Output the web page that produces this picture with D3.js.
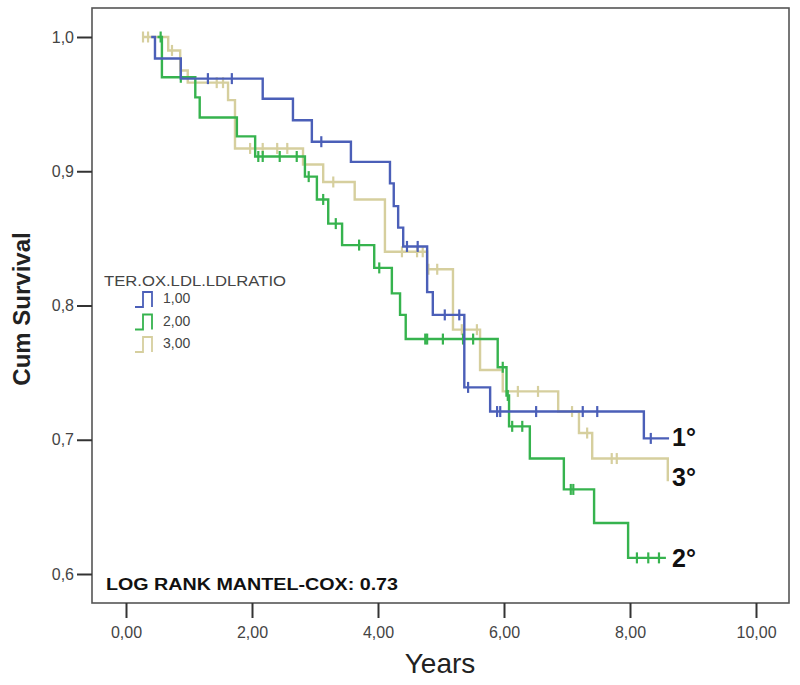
<!DOCTYPE html>
<html>
<head>
<meta charset="utf-8">
<script src="https://cdn.jsdelivr.net/npm/d3@7/dist/d3.min.js"></script>
<style>
  html, body { margin: 0; padding: 0; background: #fff; }
  svg { display: block; }
</style>
</head>
<body>
<svg id="chart" width="800" height="685"></svg>
<script>
// ---- Data ----
const xTicks = [0, 2, 4, 6, 8, 10];
const yTicks = [0.6, 0.7, 0.8, 0.9, 1.0];

// Group 1,00 (blue)
const times1 = [0.40, 0.46, 0.87, 2.17, 2.65, 2.95, 3.57, 4.19, 4.25, 4.32, 4.40, 4.78, 4.87, 5.37, 5.78, 8.22];
const surv1  = [1.000, 0.984, 0.969, 0.954, 0.938, 0.922, 0.907, 0.891, 0.874, 0.858, 0.844, 0.810, 0.793, 0.739, 0.721, 0.701];
const end1 = 8.62;
const censor1 = [1.30, 1.68, 3.10, 4.46, 4.63, 5.06, 5.29, 5.43, 5.89, 5.94, 6.51, 7.25, 7.48, 8.33];

// Group 2,00 (green)
const times2 = [0.50, 0.57, 1.10, 1.17, 1.76, 2.05, 2.84, 3.03, 3.21, 3.43, 3.94, 4.22, 4.35, 4.44, 5.90, 6.04, 6.08, 6.41, 6.95, 7.43, 7.97];
const surv2  = [1.000, 0.970, 0.955, 0.940, 0.926, 0.911, 0.896, 0.879, 0.861, 0.845, 0.828, 0.809, 0.793, 0.775, 0.754, 0.733, 0.710, 0.686, 0.663, 0.638, 0.612];
const end2 = 8.57;
const censor2 = [0.55, 0.87, 2.10, 2.17, 2.44, 2.71, 2.90, 3.13, 3.33, 3.70, 4.02, 4.75, 4.78, 5.03, 5.35, 5.51, 5.98, 6.06, 6.13, 6.29, 7.06, 7.10, 8.11, 8.29, 8.46];

// Group 3,00 (tan)
const times3 = [0.27, 0.67, 0.86, 0.98, 1.62, 1.73, 2.81, 3.13, 3.63, 4.11, 4.78, 5.19, 5.62, 5.98, 6.86, 7.19, 7.40, 8.60];
const surv3  = [1.000, 0.990, 0.975, 0.966, 0.953, 0.917, 0.905, 0.892, 0.879, 0.840, 0.827, 0.782, 0.752, 0.736, 0.721, 0.705, 0.686, 0.669];
const end3 = 8.60;
const censor3 = [0.27, 0.35, 0.73, 1.44, 1.54, 1.97, 2.17, 2.40, 2.56, 3.29, 4.38, 4.62, 4.71, 4.80, 4.94, 5.33, 5.57, 6.22, 6.54, 7.08, 7.32, 7.71, 7.79];

const legendTitle = "TER.OX.LDL.LDLRATIO";
const legendLabels = ["1,00", "2,00", "3,00"];
const endLabels = ["1°", "2°", "3°"];
const colors = ["#4b5fb8", "#36b34e", "#d6cf9e"];

const groups = [
  { times: times1, surv: surv1, end: end1, censor: censor1 },
  { times: times2, surv: surv2, end: end2, censor: censor2 },
  { times: times3, surv: surv3, end: end3, censor: censor3 }
];

// ---- Layout ----
const svg = d3.select("#chart");
const frame = { left: 92, top: 8, right: 789, bottom: 603 };

const x = d3.scaleLinear().domain([0, 10]).range([126, 756]);
const y = d3.scaleLinear().domain([0.6, 1.0]).range([574, 37]);

// frame
svg.append("rect")
  .attr("x", frame.left).attr("y", frame.top)
  .attr("width", frame.right - frame.left).attr("height", frame.bottom - frame.top)
  .attr("fill", "none").attr("stroke", "#555").attr("stroke-width", 1.6);

// y axis
const yAxis = svg.append("g")
  .attr("transform", `translate(${frame.left},0)`)
  .call(d3.axisLeft(y).tickValues(yTicks).tickSize(15).tickPadding(3)
    .tickFormat(d => d.toFixed(1).replace(".", ",")));
yAxis.select(".domain").remove();
yAxis.selectAll(".tick line").attr("stroke", "#333").attr("stroke-width", 2);
yAxis.selectAll(".tick text").attr("fill", "#444")
  .style("font-family", "Arial, 'Liberation Sans', sans-serif").style("font-size", "16px");

// x axis
const xAxis = svg.append("g")
  .attr("transform", `translate(0,${frame.bottom})`)
  .call(d3.axisBottom(x).tickValues(xTicks).tickSize(15).tickPadding(9)
    .tickFormat(d => d.toFixed(2).replace(".", ",")));
xAxis.select(".domain").remove();
xAxis.selectAll(".tick line").attr("stroke", "#333").attr("stroke-width", 2);
xAxis.selectAll(".tick text").attr("fill", "#444")
  .style("font-family", "Arial, 'Liberation Sans', sans-serif").style("font-size", "16px");

// axis titles
svg.append("text")
  .attr("x", 440).attr("y", 673)
  .attr("text-anchor", "middle")
  .style("font-family", "Arial, 'Liberation Sans', sans-serif")
  .style("font-size", "28px").attr("fill", "#222")
  .text("Years");

svg.append("text")
  .attr("transform", "translate(30,309) rotate(-90)")
  .attr("text-anchor", "middle")
  .style("font-family", "Arial, 'Liberation Sans', sans-serif")
  .style("font-size", "24px").style("font-weight", "bold").attr("fill", "#222")
  .text("Cum Survival");

// ---- Curves ----
const line = d3.line().x(d => x(d[0])).y(d => y(d[1])).curve(d3.curveStepAfter);

function survAt(g, t) {
  let s = g.surv[0];
  for (let i = 0; i < g.times.length; i++) {
    if (g.times[i] <= t) s = g.surv[i];
  }
  return s;
}

const drawOrder = [2, 1, 0];
drawOrder.forEach(i => {
  const g = groups[i];
  const pts = g.times.map((t, k) => [t, g.surv[k]]);
  pts.push([g.end, g.surv[g.surv.length - 1]]);
  svg.append("path")
    .datum(pts)
    .attr("d", line)
    .attr("fill", "none")
    .attr("stroke", colors[i])
    .attr("stroke-width", 2.4);
  svg.append("g").selectAll("line")
    .data(g.censor)
    .join("line")
    .attr("x1", d => x(d)).attr("x2", d => x(d))
    .attr("y1", d => y(survAt(g, d)) - 5.5)
    .attr("y2", d => y(survAt(g, d)) + 5.5)
    .attr("stroke", colors[i])
    .attr("stroke-width", 2.2);
});

// ---- Legend ----
svg.append("text")
  .attr("x", 104).attr("y", 286)
  .attr("textLength", 182).attr("lengthAdjust", "spacingAndGlyphs")
  .style("font-family", "Arial, 'Liberation Sans', sans-serif")
  .style("font-size", "15px").attr("fill", "#444")
  .text(legendTitle);

const legendRows = svg.append("g").selectAll("g")
  .data(legendLabels)
  .join("g")
  .attr("transform", (d, i) => `translate(0,${i * 22.5})`);
legendRows.append("path")
  .attr("d", "M135,307 H143 V292 H152 V307")
  .attr("fill", "none")
  .attr("stroke", (d, i) => colors[i])
  .attr("stroke-width", 1.8);
legendRows.append("text")
  .attr("x", 163).attr("y", 303)
  .style("font-family", "Arial, 'Liberation Sans', sans-serif")
  .style("font-size", "14px").attr("fill", "#444")
  .text(d => d);

// ---- End labels ----
const endLabelPos = [[672, 446], [672, 567], [672, 486]];
svg.append("g").selectAll("text")
  .data(endLabels)
  .join("text")
  .attr("x", (d, i) => endLabelPos[i][0])
  .attr("y", (d, i) => endLabelPos[i][1])
  .style("font-family", "Arial, 'Liberation Sans', sans-serif")
  .style("font-size", "25px").style("font-weight", "bold").attr("fill", "#111")
  .text(d => d);

// ---- Log rank annotation ----
svg.append("text")
  .attr("x", 106).attr("y", 590)
  .attr("textLength", 292).attr("lengthAdjust", "spacingAndGlyphs")
  .style("font-family", "Arial, 'Liberation Sans', sans-serif")
  .style("font-size", "16px").style("font-weight", "bold").attr("fill", "#111")
  .text("LOG RANK MANTEL-COX: 0.73");
</script>
</body>
</html>
